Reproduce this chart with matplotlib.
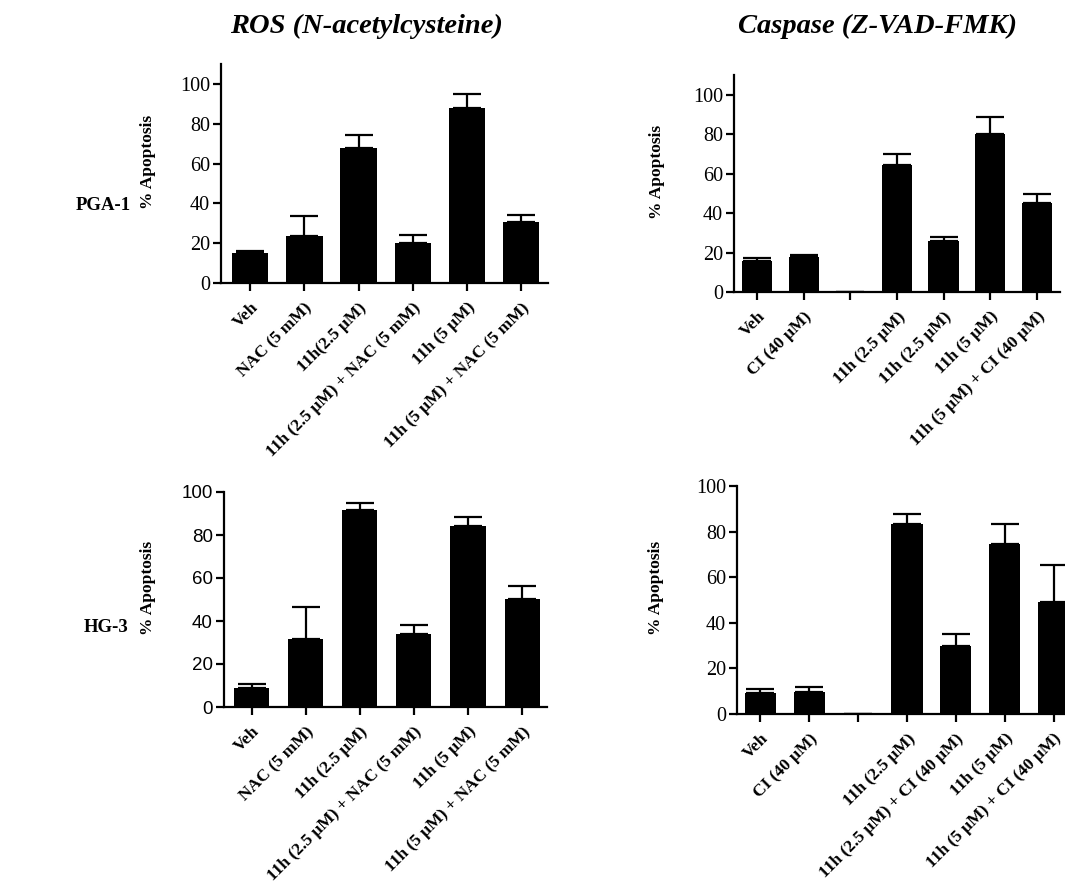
import matplotlib.pyplot as plt
import numpy as np

# data
ros_labels = ['Veh', 'NAC (5 mM)', '11h(2.5 μM)', '11h (2.5 μM) + NAC (5 mM)',
              '11h (5 μM)', '11h (5 μM) + NAC (5 mM)']
ros_labels_hg = ['Veh', 'NAC (5 mM)', '11h (2.5 μM)', '11h (2.5 μM) + NAC (5 mM)',
                 '11h (5 μM)', '11h (5 μM) + NAC (5 mM)']
cas_labels = ['Veh', 'CI (40 μM)', '', '11h (2.5 μM)', '11h (2.5 μM)',
              '11h (5 μM)', '11h (5 μM) + CI (40 μM)']
cas_labels_hg = ['Veh', 'CI (40 μM)', '', '11h (2.5 μM)', '11h (2.5 μM) + CI (40 μM)',
                 '11h (5 μM)', '11h (5 μM) + CI (40 μM)']

pga_ros = [14.9, 23.8, 67.7, 20.1, 87.8, 30.8]
pga_ros_err = [1.1, 10.0, 6.5, 4.2, 7.2, 3.4]
pga_cas = [15.7, 17.7, np.nan, 64.4, 25.8, 80.3, 45.3]
pga_cas_err = [1.3, 1.2, np.nan, 5.4, 2.0, 8.4, 4.6]
hg_ros = [8.7, 31.6, 91.5, 33.8, 84.2, 50.1]
hg_ros_err = [2.2, 14.8, 3.6, 4.3, 4.3, 6.2]
hg_cas = [9.3, 9.8, np.nan, 83.2, 30.0, 74.4, 49.1]
hg_cas_err = [1.8, 1.9, np.nan, 4.7, 5.0, 9.1, 16.3]

W, H = 1065, 883
fig = plt.figure(figsize=(W / 100, H / 100), dpi=100)


def px_axes(left, right, bottom, top):
    return fig.add_axes([left / W, 1 - bottom / H, (right - left) / W, (bottom - top) / H])


def panel(ax, vals, errs, labels, ymax, xlim, width, tickfont, tsize, label_x):
    x = np.arange(len(vals))
    v = np.nan_to_num(np.array(vals, dtype=float))
    e = np.nan_to_num(np.array(errs, dtype=float))
    ax.bar(x, v, width=width, color='black', zorder=2)
    ax.errorbar(x, v, yerr=[np.zeros_like(e), e], fmt='none', ecolor='black',
                elinewidth=1.6, capsize=10, capthick=1.6, zorder=1)
    ax.set_xlim(*xlim)
    ax.set_ylim(0, ymax)
    ax.set_yticks(range(0, 101, 20))
    ax.set_xticks(x)
    ax.set_xticklabels(labels, rotation=45, ha='right', rotation_mode='anchor',
                       family='Liberation Serif', fontweight='bold', fontsize=12.5)
    for t in ax.get_yticklabels():
        t.set_family(tickfont)
        t.set_fontsize(tsize)
    for s in ['top', 'right']:
        ax.spines[s].set_visible(False)
    for s in ['left', 'bottom']:
        ax.spines[s].set_linewidth(1.6)
    ax.tick_params(width=1.6, length=6, pad=2)
    ax.tick_params(axis='x', pad=6)
    ax.set_ylabel('% Apoptosis', family='Liberation Serif', fontweight='bold',
                  fontsize=12.5)
    bb = ax.get_position()
    ax.yaxis.set_label_coords((label_x / W - bb.x0) / bb.width, 0.555)


ax1 = px_axes(221, 548, 283, 64)
panel(ax1, pga_ros, pga_ros_err, ros_labels, 110, (-0.54, 5.5), 0.67,
      'Liberation Serif', 14.5, 156)
ax2 = px_axes(734, 1060, 292, 75)
panel(ax2, pga_cas, pga_cas_err, cas_labels, 110, (-0.5, 6.5), 0.65,
      'Liberation Serif', 14.5, 665)
ax3 = px_axes(224, 547, 707, 492)
panel(ax3, hg_ros, hg_ros_err, ros_labels_hg, 100, (-0.51, 5.46), 0.65,
      'Liberation Sans', 13.5, 156)
ax4 = px_axes(737, 1078, 714, 486)
panel(ax4, hg_cas, hg_cas_err, cas_labels_hg, 100, (-0.48, 6.5), 0.64,
      'Liberation Serif', 14.5, 664)

fig.text(366 / W, 1 - 26 / H, 'ROS (N-acetylcysteine)', ha='center', va='center',
         family='Liberation Serif', style='italic', fontweight='bold', fontsize=20.5)
fig.text(877 / W, 1 - 26 / H, 'Caspase (Z-VAD-FMK)', ha='center', va='center',
         family='Liberation Serif', style='italic', fontweight='bold', fontsize=20.5)
fig.text(103 / W, 1 - 206 / H, 'PGA-1', ha='center', va='center',
         family='Liberation Serif', fontweight='bold', fontsize=13.5)
fig.text(106 / W, 1 - 628 / H, 'HG-3', ha='center', va='center',
         family='Liberation Serif', fontweight='bold', fontsize=13.5)

fig.savefig('out.png', dpi=100)
